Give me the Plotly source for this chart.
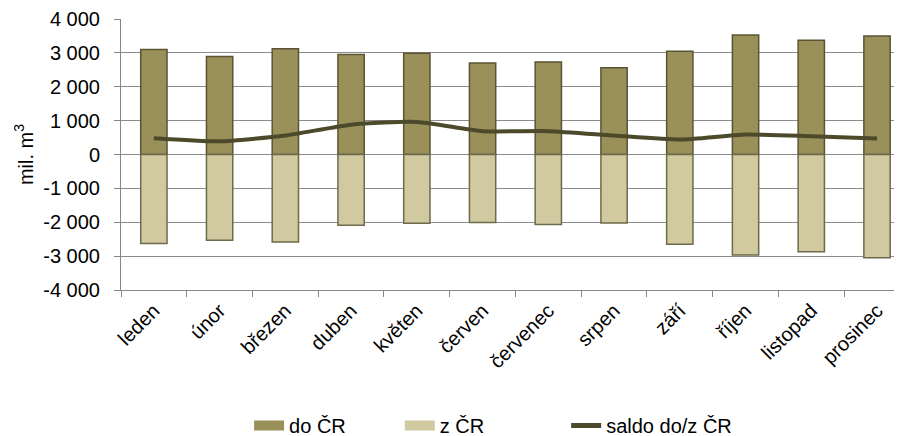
import plotly.graph_objects as go

months = ["leden", "únor", "březen", "duben", "květen", "červen",
          "červenec", "srpen", "září", "říjen", "listopad", "prosinec"]
do_cr = [3100, 2890, 3120, 2950, 2990, 2700, 2730, 2560, 3050, 3530, 3370, 3500]
z_cr = [-2630, -2530, -2580, -2090, -2030, -2010, -2070, -2020, -2650, -2970, -2870, -3050]
saldo = [480, 390, 560, 880, 960, 690, 690, 560, 440, 590, 540, 470]

y_ticks = [4000, 3000, 2000, 1000, 0, -1000, -2000, -3000, -4000]
y_tick_text = ["4 000", "3 000", "2 000", "1 000", "0", "-1 000", "-2 000", "-3 000", "-4 000"]

font = "Liberation Sans, Arial, sans-serif"
FS = 20
c_do = "#9a9059"
c_z = "#d1caa0"
c_line = "#4d4a2b"

fig = go.Figure()
fig.add_trace(go.Bar(
    x=months, y=do_cr, name="do ČR", width=0.4, showlegend=False,
    marker=dict(color=c_do, line=dict(color="#5a5434", width=1.5)),
))
fig.add_trace(go.Bar(
    x=months, y=z_cr, name="z ČR", width=0.4, showlegend=False,
    marker=dict(color=c_z, line=dict(color="#6e6a4c", width=1.5)),
))
fig.add_trace(go.Scatter(
    x=months, y=saldo, name="saldo do/z ČR", mode="lines", showlegend=False,
    line=dict(color=c_line, width=4, shape="spline", smoothing=0.6),
))
# legend-only entries (no data drawn)
fig.add_trace(go.Scatter(x=[None], y=[None], name="do ČR", mode="lines",
                         line=dict(color=c_do, width=10), legend="legend"))
fig.add_trace(go.Scatter(x=[None], y=[None], name="z ČR", mode="lines",
                         line=dict(color=c_z, width=10), legend="legend2"))
fig.add_trace(go.Scatter(x=[None], y=[None], name="saldo do/z ČR", mode="lines",
                         line=dict(color=c_line, width=5), legend="legend3"))

leg_common = dict(orientation="h", xanchor="left", y=-0.50, yanchor="middle",
                  font=dict(size=FS), bgcolor="rgba(0,0,0,0)")

fig.update_layout(
    width=894, height=428,
    margin=dict(l=113, r=0, t=11, b=146, autoexpand=False),
    barmode="relative",
    plot_bgcolor="white", paper_bgcolor="white",
    font=dict(family=font, size=FS, color="black"),
    showlegend=True,
    legend=dict(x=0.164, **leg_common),
    legend2=dict(x=0.357, **leg_common),
    legend3=dict(x=0.570, **leg_common),
)
fig.update_xaxes(
    range=[-0.5, 11.38], tickangle=-45, showgrid=False,
    showline=True, linecolor="#878787", linewidth=1,
    ticks="outside", ticklen=6, tickcolor="#878787", tickson="boundaries",
    tickfont=dict(size=FS), automargin=False,
)
fig.update_yaxes(
    range=[-4000, 4000], tickvals=y_ticks, ticktext=y_tick_text,
    showgrid=True, gridcolor="#8c8c8c", gridwidth=1,
    showline=True, linecolor="#878787", linewidth=1,
    ticks="outside", ticklen=6, tickcolor="#878787", ticklabelstandoff=10,
    ticklabeloverflow="allow",
    zeroline=False, tickfont=dict(size=FS), automargin=False,
    title=dict(text="mil. m<sup>3</sup>", font=dict(size=FS), standoff=4),
)

fig.write_html("out.html")
